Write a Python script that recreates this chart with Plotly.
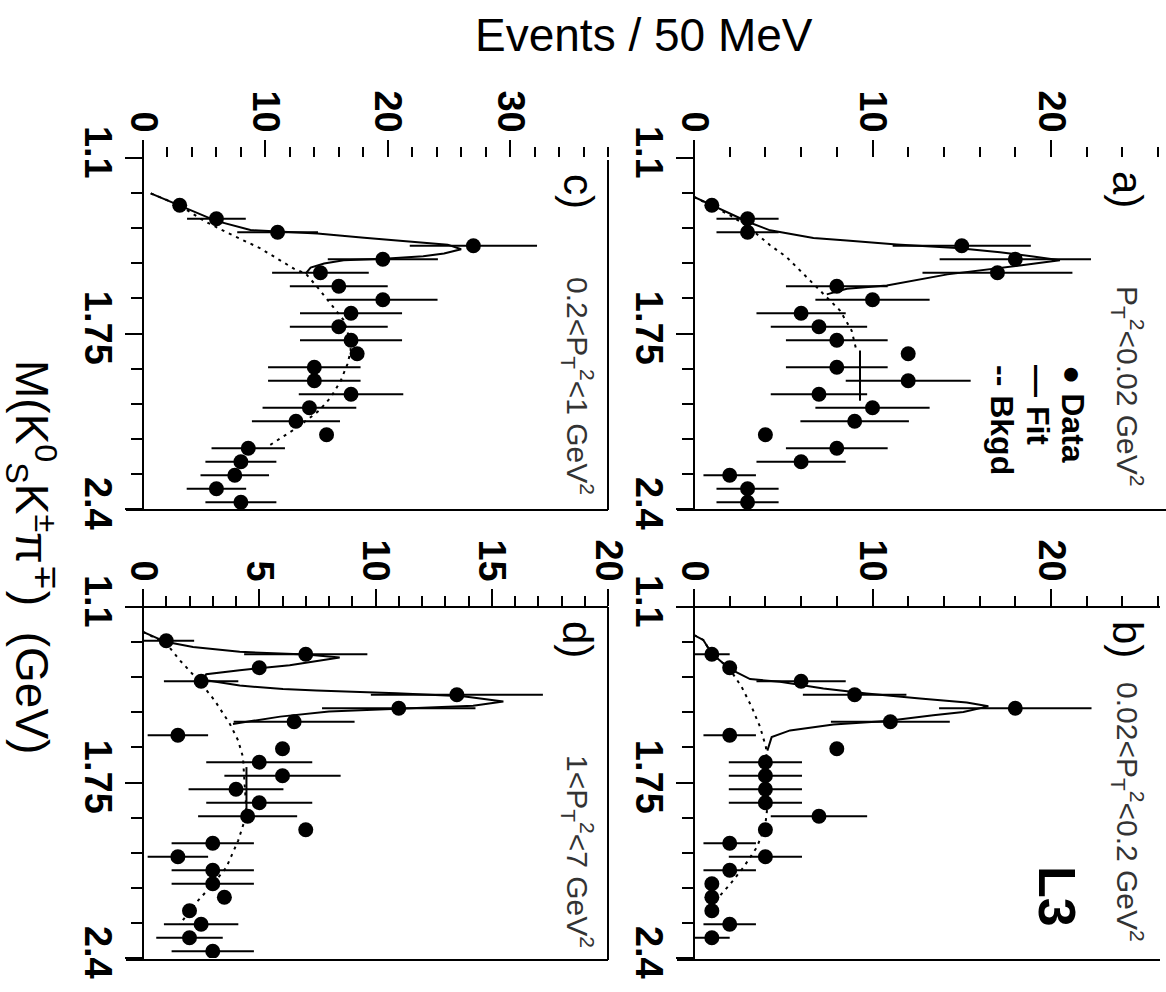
import plotly.graph_objects as go

W, H = 1166, 992

# ---------------- data (mass in GeV, events per 50 MeV) ----------------
# a) P_T^2 < 0.02 GeV^2
a_mass = [1.275, 1.325, 1.375, 1.425, 1.475, 1.525, 1.575, 1.625, 1.675, 1.725, 1.775, 1.825,
          1.875, 1.925, 1.975, 2.025, 2.075, 2.125, 2.175, 2.225, 2.275, 2.325, 2.375]
a_events = [1, 3, 3, 15, 18, 17, 8, 10, 6, 7, 8, 12, 8, 12, 7, 10, 9, 4, 8, 6, 2, 3, 3]
a_err = [0, 1.74, 1.74, 3.87, 4.24, 4.2, 2.85, 3.2, 2.5, 2.7, 2.85, 0, 2.85, 3.5, 2.7, 3.2,
         3.04, 0, 2.85, 2.5, 1.47, 1.74, 1.74]
a_fit_mass = [1.244, 1.275, 1.337, 1.368, 1.396, 1.406, 1.420, 1.433, 1.449, 1.465, 1.479, 1.492,
              1.504, 1.531, 1.572, 1.584, 1.605, None, 1.813, 1.999]
a_fit_val = [0, 0.99, 3.04, 4.26, 6.69, 8.56, 11.36, 14.72, 17.14, 19.0, 20.5, 19.0,
             17.5, 14.2, 10.8, 8.56, 7.44, None, 9.3, 9.3]
a_bkg_mass = [1.244, 1.279, 1.312, 1.355, 1.423, 1.467, 1.541, 1.603, 1.665, 1.739, 1.813]
a_bkg_val = [0, 1.0, 2.02, 3.04, 4.26, 5.19, 6.3, 7.25, 8.18, 8.83, 9.1]

# b) 0.02 < P_T^2 < 0.2 GeV^2
b_mass = [1.275, 1.325, 1.375, 1.425, 1.475, 1.525, 1.575, 1.625, 1.675, 1.725, 1.775, 1.825,
          1.875, 1.925, 1.975, 2.025, 2.075, 2.125, 2.175, 2.225, 2.275, 2.325]
b_events = [1, 2, 6, 9, 18, 11, 2, 8, 4, 4, 4, 4, 7, 4, 2, 4, 2, 1, 1, 1, 2, 1]
b_err = [1.0, 0, 2.5, 2.9, 4.27, 3.33, 1.47, 0, 2.05, 2.05, 2.05, 2.05, 2.7, 0, 1.47, 2.05,
         1.47, 0, 0, 0, 1.47, 1.0]
b_fit_mass = [1.204, 1.222, 1.272, 1.328, 1.367, 1.377, 1.402, 1.420, 1.439, 1.454, 1.468, 1.489,
              1.501, 1.522, 1.535, 1.557, 1.582, 1.632]
b_fit_val = [0, 0.52, 0.99, 1.98, 3.14, 4.82, 7.25, 9.67, 12.66, 15.28, 16.49, 15.09,
             13.4, 10.79, 7.81, 5.38, 4.35, 4.11]
b_bkg_mass = [1.204, 1.222, 1.272, 1.328, 1.396, 1.470, 1.544, 1.619, 1.693, 1.842, 1.916, 1.991,
              2.065, 2.127, 2.183]
b_bkg_val = [0, 0.52, 0.99, 1.98, 2.67, 3.23, 3.70, 4.03, 4.11, 4.11, 3.98, 3.51, 2.76, 2.02, 1.27]

# c) 0.2 < P_T^2 < 1 GeV^2
c_mass = [1.275, 1.325, 1.375, 1.425, 1.475, 1.525, 1.575, 1.625, 1.675, 1.725, 1.775, 1.825,
          1.875, 1.925, 1.975, 2.025, 2.075, 2.125, 2.175, 2.225, 2.275, 2.325, 2.375]
c_events = [3, 6, 11, 27, 19.6, 14.5, 16, 19.6, 17, 16, 17, 17.5, 14, 14, 17, 13.6, 12.5, 15,
            8.6, 8, 7.5, 6, 8]
c_err = [0, 2.4, 3.3, 5.2, 4.5, 3.95, 4.0, 4.47, 4.17, 4.0, 4.17, 0, 3.78, 3.78, 4.27, 3.83,
         3.6, 0, 3.0, 2.9, 2.8, 2.43, 2.9]
c_fit_mass = [1.231, 1.275, 1.333, 1.367, 1.380, 1.395, 1.408, 1.421, 1.438, 1.454, 1.464, 1.473,
              1.479, 1.491, 1.506, 1.528]
c_fit_val = [0.63, 2.97, 5.97, 8.78, 14.25, 18.07, 21.35, 24.9, 26.0, 24.6, 22.9, 19.7,
             16.4, 14.8, 13.7, 13.29]
c_bkg_mass = [1.231, 1.275, 1.333, 1.376, 1.435, 1.473, 1.510, 1.528, 1.578, 1.640, 1.702, 1.764,
              1.813, 1.863, 1.925, 1.987, 2.036, 2.098, 2.166]
c_bkg_val = [0.63, 2.97, 5.0, 6.86, 9.6, 10.97, 12.33, 13.29, 14.25, 15.34, 16.43, 16.84,
             16.98, 16.71, 16.16, 15.34, 14.38, 12.61, 10.28]

# d) 1 < P_T^2 < 7 GeV^2
d_mass = [1.225, 1.275, 1.325, 1.375, 1.425, 1.475, 1.525, 1.575, 1.625, 1.675, 1.725, 1.775,
          1.825, 1.875, 1.925, 1.975, 2.025, 2.075, 2.125, 2.175, 2.225, 2.275, 2.325, 2.375]
d_events = [1, 7, 5, 2.5, 13.5, 11, 6.5, 1.5, 6, 5, 6, 4, 5, 4.5, 7, 3, 1.5, 3, 3, 3.5, 2,
            2.5, 2, 3]
d_err = [1.2, 2.65, 0, 1.6, 3.7, 3.3, 2.6, 1.3, 0, 2.28, 2.5, 2.04, 2.28, 2.13, 0, 1.77, 1.3,
         1.77, 1.77, 0, 0, 1.6, 1.43, 1.77]
d_fit_mass = [1.192, 1.229, 1.248, 1.266, 1.276, 1.287, 1.316, 1.334, 1.349, 1.369, 1.391, 1.404,
              1.409, 1.419, 1.431, 1.450, 1.466, 1.475, 1.487, 1.506, 1.533, None, 1.693, 1.879]
d_fit_val = [0, 0.97, 2.15, 4.16, 7.03, 8.46, 6.31, 4.16, 2.72, 2.58, 4.16, 6.02,
             7.46, 10.9, 13.76, 15.5, 14.2, 11.6, 8.0, 5.9, 3.87, None, 4.45, 4.45]
d_bkg_mass = [1.192, 1.235, 1.297, 1.377, 1.446, 1.532, 1.594, 1.656, 1.755, 1.842, 1.891, 1.966,
              2.065, 2.127, 2.195, 2.275]
d_bkg_val = [0, 1.0, 1.58, 2.44, 3.08, 3.73, 4.09, 4.3, 4.37, 4.44, 4.37, 4.09, 3.58, 3.0,
             2.29, 1.58]

mass_ticks = [1.1, 1.75, 2.4]
mass_ticktext = ["1.1", "1.75", "2.4"]
mass_minor = [1.23, 1.36, 1.49, 1.62, 1.88, 2.01, 2.14, 2.27]

# ---------------- layout geometry (pixels) ----------------
LX0, LX1 = 143, 608
RX0, RX1 = 694, 1166
TY0, TY1 = 158, 509
BY0, BY1 = 607, 958


def fx(px):
    return px / W


def fy(py):
    return 1 - py / H


FONT = "Liberation Sans, Arial, sans-serif"
tickfont = dict(family=FONT, size=38, color="black", weight="bold")

fig = go.Figure()

panels = [
    ("c", "x", "y", c_mass, c_events, c_err, c_fit_mass, c_fit_val, c_bkg_mass, c_bkg_val),
    ("a", "x2", "y2", a_mass, a_events, a_err, a_fit_mass, a_fit_val, a_bkg_mass, a_bkg_val),
    ("d", "x3", "y3", d_mass, d_events, d_err, d_fit_mass, d_fit_val, d_bkg_mass, d_bkg_val),
    ("b", "x4", "y4", b_mass, b_events, b_err, b_fit_mass, b_fit_val, b_bkg_mass, b_bkg_val),
]

for name, xa, ya, m, ev, er, fm, fv, bm, bv in panels:
    fig.add_trace(go.Scatter(x=bv, y=bm, mode="lines", xaxis=xa, yaxis=ya,
                             line=dict(color="black", width=2, dash="3px,5px"),
                             showlegend=False, hoverinfo="skip"))
    fig.add_trace(go.Scatter(x=fv, y=fm, mode="lines", xaxis=xa, yaxis=ya, connectgaps=False,
                             line=dict(color="black", width=2),
                             showlegend=False, hoverinfo="skip"))
    fig.add_trace(go.Scatter(x=ev, y=m, mode="markers", xaxis=xa, yaxis=ya,
                             marker=dict(color="black", size=15, symbol="circle"),
                             error_x=dict(type="data", array=er, symmetric=True,
                                          thickness=2, width=0, color="black"),
                             showlegend=False))


def xaxis_cfg(dom, rng, major, minor):
    return dict(domain=dom, range=rng, side="top", showgrid=False, zeroline=False,
                showline=False, automargin=False, tickmode="linear", tick0=0, dtick=major,
                ticks="outside", ticklen=17, tickwidth=2, tickcolor="black",
                tickangle=90, tickfont=tickfont, ticklabelstandoff=-6,
                minor=dict(ticks="outside", ticklen=10, tickwidth=2, tickcolor="black",
                           dtick=minor, tick0=0, showgrid=False),
                fixedrange=True)


def yaxis_cfg(dom):
    return dict(domain=dom, range=[2.4, 1.1], showgrid=False, zeroline=False, showline=False,
                automargin=False,
                tickmode="array", tickvals=mass_ticks, ticktext=mass_ticktext,
                ticks="outside", ticklen=17, tickwidth=2, tickcolor="black",
                tickangle=90, tickfont=tickfont, ticklabelstandoff=-6,
                minor=dict(ticks="outside", ticklen=11, tickwidth=2, tickcolor="black",
                           tickmode="array", tickvals=mass_minor, showgrid=False),
                fixedrange=True)


x_right_max = (RX1 - RX0) / 17.85

fig.update_layout(
    template="none",
    width=W, height=H, margin=dict(l=0, r=0, t=0, b=0, autoexpand=False),
    paper_bgcolor="white", plot_bgcolor="white",
    xaxis=dict(**xaxis_cfg([fx(LX0), fx(LX1)], [0, 38], 10, 2), anchor="y"),
    yaxis=dict(**yaxis_cfg([fy(TY1), fy(TY0)]), anchor="x"),
    xaxis2=dict(**xaxis_cfg([fx(RX0), 1.0], [0, x_right_max], 10, 2), anchor="y2"),
    yaxis2=dict(**yaxis_cfg([fy(TY1), fy(TY0)]), anchor="x2"),
    xaxis3=dict(**xaxis_cfg([fx(LX0), fx(LX1)], [0, 20], 5, 1), anchor="y3"),
    yaxis3=dict(**yaxis_cfg([fy(BY1), fy(BY0)]), anchor="x3"),
    xaxis4=dict(**xaxis_cfg([fx(RX0), 1.0], [0, x_right_max], 10, 2), anchor="y4"),
    yaxis4=dict(**yaxis_cfg([fy(BY1), fy(BY0)]), anchor="x4"),
)

# frame lines (pixel geometry)
frame = [
    (LX0, 140, LX0, TY1 + 1), (LX1, 160, LX1, TY1 + 1), (126, TY1 + 1, LX1, TY1 + 1),
    (RX0, 140, RX0, TY1 + 1), (677, TY1 + 1, 1166, TY1 + 1),
    (LX0, BY0, LX0, BY1 + 2), (LX1, BY0, LX1, BY1 + 2), (126, BY0, LX1, BY0),
    (126, BY1 + 2, LX1, BY1 + 2),
    (RX0, BY0, RX0, BY1 + 2), (677, BY0, 1160, BY0), (677, BY1 + 2, 1160, BY1 + 2),
]
for x0, y0, x1, y1 in frame:
    fig.add_shape(type="line", xref="paper", yref="paper", x0=fx(x0), y0=fy(y0),
                  x1=fx(x1), y1=fy(y1), line=dict(color="black", width=2))


def ann(text, x, y, size, weight="normal", angle=90, color="black", xanchor="center",
        yanchor="middle"):
    fig.add_annotation(text=text, xref="paper", yref="paper", x=fx(x), y=fy(y),
                       showarrow=False, textangle=angle, xanchor=xanchor, yanchor=yanchor,
                       font=dict(family=FONT, size=size, color=color, weight=weight))


ann("Events / 50 MeV", 644, 35, 46, angle=0)
ann("M(K<sup>0</sup><sub>S</sub>K<sup>±</sup>π<sup>∓</sup>)  (GeV)", 32, 557, 46)

ann("c)", 578, 191, 42)
ann("a)", 1128, 189, 42)
ann("d)", 578, 639, 42)
ann("b)", 1128, 639, 42)

ann("P<sub>T</sub><sup>2</sup><0.02 GeV<sup>2</sup>", 1128, 386, 30, color="#333333")
ann("0.02<P<sub>T</sub><sup>2</sup><0.2 GeV<sup>2</sup>", 1128, 812, 30, color="#333333")
ann("0.2<P<sub>T</sub><sup>2</sup><1 GeV<sup>2</sup>", 578, 386, 30, color="#333333")
ann("1<P<sub>T</sub><sup>2</sup><7 GeV<sup>2</sup>", 578, 851, 30, color="#333333")

ann("● Data", 1073, 363, 32, weight="bold", yanchor="top")
ann("— Fit", 1038, 363, 32, weight="bold", yanchor="top")
ann("-- Bkgd", 1002, 363, 32, weight="bold", yanchor="top")

ann("L3", 1057, 896, 52, weight="bold")

fig.write_html("out.html")
